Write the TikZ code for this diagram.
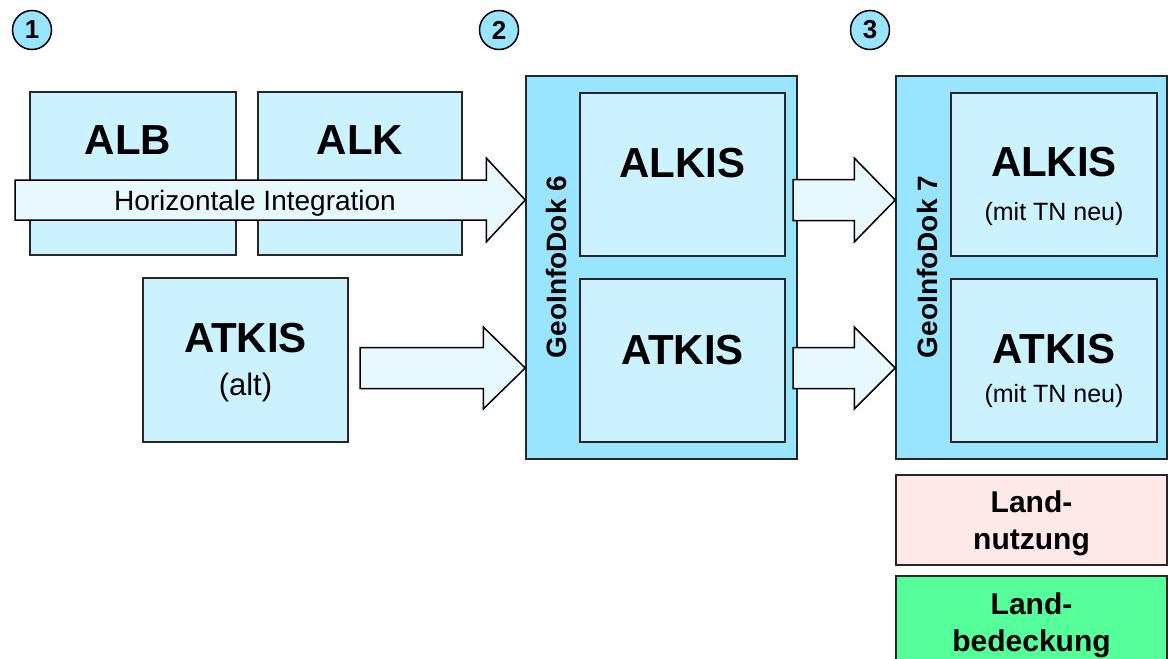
\documentclass[tikz,border=0pt]{standalone}
\usepackage{fontspec}
\setmainfont{Liberation Sans}
\usetikzlibrary{calc}
\definecolor{outerblue}{HTML}{99E5FF}
\definecolor{innerblue}{HTML}{CCF2FF}
\definecolor{arrowblue}{HTML}{E8F8FF}
\definecolor{landpink}{HTML}{FFE8E8}
\definecolor{landgreen}{HTML}{55FF9A}
\tikzset{
  outerbox/.style={draw=black!85, line width=1.5pt, fill=outerblue, minimum width=271pt, minimum height=383pt, inner sep=0pt},
  innerbox/.style={draw=black!85, line width=1.5pt, fill=innerblue, minimum width=205pt, minimum height=163pt, inner sep=0pt},
  landbox/.style={draw=black!85, line width=1.5pt, minimum width=271pt, inner sep=0pt},
  landtext/.style={align=center, font=\fontsize{30}{37}\selectfont\bfseries},
  numcircle/.style={circle, draw=black, line width=1.5pt, fill=outerblue, minimum size=39pt, inner sep=0pt, font=\fontsize{26}{26}\selectfont\bfseries},
  bigtext/.style={font=\fontsize{42}{46}\selectfont\bfseries},
  smalltext/.style={font=\fontsize{25}{27}\selectfont},
  doktext/.style={rotate=90, font=\fontsize{28}{30}\selectfont\bfseries},
  arrowbox/.style={draw=black, line width=1.5pt, fill=arrowblue, line join=miter}
}
% block arrow: start, tip, shaft half, head half, head length
\newcommand{\blockarrow}[5]{%
  \draw[arrowbox] ($(#1)+(0,-#3)$) -- ($(#2)+(-#5,-#3)$) -- ($(#2)+(-#5,-#4)$) -- (#2)
    -- ($(#2)+(-#5,#4)$) -- ($(#2)+(-#5,#3)$) -- ($(#1)+(0,#3)$) -- cycle;}
\begin{document}
\begin{tikzpicture}[x=1pt,y=-1pt]
\useasboundingbox (0,0) rectangle (1168,659);
% Step numbers:
\node (c1) [numcircle] at (32,30) {1};
\node (c2) [numcircle] at (499,30) {2};
\node (c3) [numcircle] at (870,30) {3};
% Old systems:
\node (alb) [innerbox, minimum width=206pt] at (133,173.5) {};
\node (albtxt) [bigtext] at (128,140) {ALB};
\node (alk) [innerbox, minimum width=204pt] at (360,173.5) {};
\node (alktxt) [bigtext] at (360,140) {ALK};
\node (atkisalt) [innerbox, minimum height=164pt] at (245.5,360) {};
\node (atkisalttxt) [bigtext] at (245.5,338) {ATKIS};
\node (atkisaltsub) [font=\fontsize{31}{34}\selectfont] at (245.5,387) {(alt)};
% GeoInfoDok 6:
\node (gd6) [outerbox] at (661.5,267.5) {};
\node (gd6lbl) [doktext] at (556,267) {GeoInfoDok 6};
\node (alkis6) [innerbox] at (682.5,174.5) {};
\node (alkis6txt) [bigtext] at (682.5,163) {ALKIS};
\node (atkis6) [innerbox] at (682.5,360.5) {};
\node (atkis6txt) [bigtext] at (682.5,350) {ATKIS};
% GeoInfoDok 7:
\node (gd7) [outerbox] at (1031.5,267.5) {};
\node (gd7lbl) [doktext] at (927,267) {GeoInfoDok 7};
\node (alkis7) [innerbox, minimum width=206pt] at (1054,174.5) {};
\node (alkis7txt) [bigtext] at (1054,162) {ALKIS};
\node (alkis7sub) [smalltext] at (1054,214) {(mit TN neu)};
\node (atkis7) [innerbox, minimum width=206pt] at (1054,360.5) {};
\node (atkis7txt) [bigtext] at (1054,349) {ATKIS};
\node (atkis7sub) [smalltext] at (1054,396) {(mit TN neu)};
% Land use / land cover:
\node (nutzung) [landbox, fill=landpink, minimum height=90pt] at (1031.5,520) {};
\node (nutzungtxt) [landtext] at (1031.5,523) {Land-\\nutzung};
\node (bedeckung) [landbox, fill=landgreen, minimum height=92pt] at (1031.5,622) {};
\node (bedeckungtxt) [landtext] at (1031.5,625) {Land-\\bedeckung};
% Arrows:
\coordinate (hstart) at (15,200);
\coordinate (htip) at (gd6.west |- hstart);
\blockarrow{hstart}{htip}{20}{42}{39}
\node (hlbl) [font=\fontsize{28}{30}\selectfont] at (255,203) {Horizontale Integration};
\coordinate (astart) at (360,368);
\coordinate (atip) at (gd6.west |- astart);
\blockarrow{astart}{atip}{20.5}{41}{42}
\coordinate (kstart) at (793,200);
\coordinate (ktip) at (gd7.west |- kstart);
\blockarrow{kstart}{ktip}{20.5}{42}{41}
\coordinate (tstart) at (793,368);
\coordinate (ttip) at (gd7.west |- tstart);
\blockarrow{tstart}{ttip}{20.5}{41}{41}
\end{tikzpicture}
\end{document}
